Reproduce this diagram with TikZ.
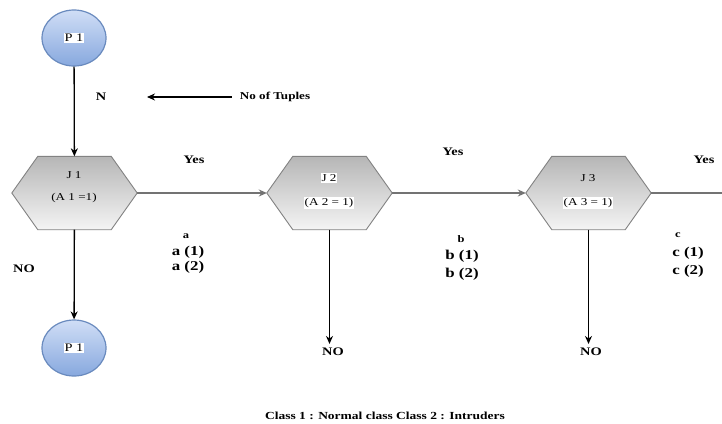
\documentclass[tikz,border=0pt]{standalone}
\usepackage{fontspec}
\setmainfont[FakeStretch=1.25]{Liberation Serif}
\usetikzlibrary{shapes.geometric,arrows.meta}
\definecolor{blueT}{RGB}{208,222,246}
\definecolor{blueB}{RGB}{135,168,222}
\definecolor{blueD}{RGB}{105,138,190}
\definecolor{hexT}{RGB}{182,182,182}
\definecolor{hexB}{RGB}{244,244,244}
\definecolor{hexD}{RGB}{130,130,130}
\begin{document}
\begin{tikzpicture}[x=1pt,y=-1pt,
  proc/.style={ellipse, minimum width=64pt, minimum height=56pt, inner sep=0pt, draw=blueD, line width=1.2pt, top color=blueT, bottom color=blueB},
  hexbox/.style={rectangle, minimum width=125pt, minimum height=73pt, inner sep=0pt},
  hexshape/.style={draw=hexD, line width=0.9pt, top color=hexT, bottom color=hexB},
  lbl/.style={font=\bfseries\fontsize{11.5}{13}\selectfont, inner sep=1pt},
  big/.style={font=\bfseries\fontsize{13.5}{16}\selectfont, inner sep=0pt},
  small/.style={font=\bfseries\fontsize{10}{12}\selectfont, inner sep=0pt},
  intext/.style={font=\fontsize{10.5}{12}\selectfont, fill=white, inner sep=1pt},
  flow/.style={-{Stealth[length=8pt,width=7pt]}, line width=1.3pt, draw=black},
  hflow/.style={flow, draw=black!55}
]
\useasboundingbox[fill=white] (0,0) rectangle (722,423);

% shapes
\node[proc] (P1a) at (74,38) {};
\node[proc] (P1b) at (74,348) {};
\node[hexbox] (J1) at (74.5,193) {};
\node[hexbox] (J2) at (329.5,193) {};
\node[hexbox] (J3) at (588.5,193) {};
\foreach \n in {J1,J2,J3} {
  \path[hexshape] (\n.west) -- ([xshift=26pt]\n.north west) -- ([xshift=-26pt]\n.north east)
    -- (\n.east) -- ([xshift=-26pt]\n.south east) -- ([xshift=26pt]\n.south west) -- cycle;
}

% texts inside shapes
\node[intext, font=\fontsize{11.5}{13}\selectfont] (P1at) at (P1a) {P 1};
\node[intext, font=\fontsize{11.5}{13}\selectfont] (P1bt) at (P1b) {P 1};
\node[intext, fill=none] (J1a) at (74,175) {J 1};
\node[intext, fill=none] (J1b) at (74,198) {(A 1 =1)};
\node[intext] (J2a) at (329,178) {J 2};
\node[intext] (J2b) at (329,203) {(A 2 = 1)};
\node[intext, fill=none] (J3a) at (588,178) {J 3};
\node[intext] (J3b) at (588,203) {(A 3 = 1)};

% labels
\node[lbl] (N) at (101,97) {N};
\node[lbl, inner xsep=8pt, font=\bfseries\fontsize{10.5}{12}\selectfont] (tuples) at (275,97) {No of Tuples};
\coordinate (tip) at (147,97);
\node[lbl] (yes1) at (194,160) {Yes};
\node[lbl] (yes2) at (453,152) {Yes};
\node[lbl] (yes3) at (704,160) {Yes};
\node[lbl] (NO1) at (24,269) {NO};
\node[lbl, inner sep=4pt] (NO2) at (333,352) {NO};
\node[lbl, inner sep=4pt] (NO3) at (591,352) {NO};

\node[small] (a0) at (186,236) {a};
\node[big] (a1) at (188,252) {a (1)};
\node[big] (a2) at (188,267) {a (2)};
\node[small] (b0) at (461,239) {b};
\node[big] (b1) at (462,256) {b (1)};
\node[big] (b2) at (462,274) {b (2)};
\node[small] (c0) at (678,235) {c};
\node[big] (c1) at (688,253) {c (1)};
\node[big] (c2) at (688,271) {c (2)};

\node[lbl, font=\bfseries\fontsize{10.8}{12}\selectfont] (cap) at (385,416) {Class 1 : Normal class Class 2 : Intruders};

% connectors
\coordinate (rend) at (722,193);
\draw[flow] (P1a) -- (J1);
\draw[flow] (J1) -- (P1b);
\draw[hflow] (J1) -- (J2);
\draw[hflow] (J2) -- (J3);
\draw[hflow, -] (J3.east) -- (rend);
\draw[flow] (J2.south) -- (J2.south |- NO2.north);
\draw[flow] (J3.south) -- (J3.south |- NO3.north);
\draw[flow, line width=1.1pt] (tuples.west) -- (tip);
\end{tikzpicture}
\end{document}
